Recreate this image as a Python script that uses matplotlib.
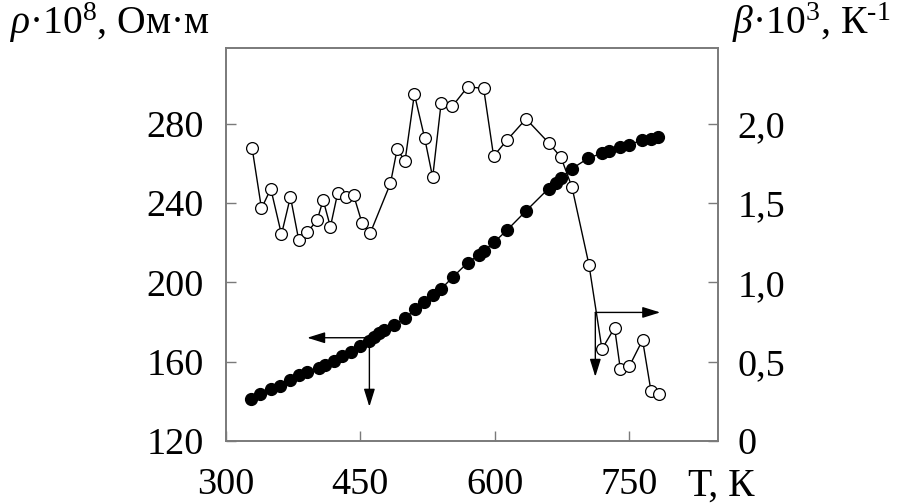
import matplotlib
matplotlib.use('Agg')
import matplotlib.pyplot as plt

# resistivity rho*10^8 (Ohm*m), filled circles, left axis
T_rho = [328.4, 338.5, 349.7, 360.8, 371.9, 382.0, 390.6, 403.5, 411.0, 420.2,
         429.6, 440.0, 450.0, 459.3, 464.8, 471.2, 476.0, 487.1, 500.2, 510.6,
         521.4, 530.6, 540.0, 552.9, 569.7, 582.7, 588.3, 599.4, 613.6, 634.8,
         660.0, 668.0, 674.2, 685.6, 704.3, 719.5, 727.7, 740.0, 749.2, 764.5,
         774.5, 782.3]
rho = [141.2, 143.7, 146.1, 147.9, 150.8, 153.3, 154.9, 156.7, 158.3, 160.5,
       162.9, 165.0, 167.9, 170.6, 172.6, 174.3, 176.0, 178.5, 181.9, 186.4,
       190.2, 193.6, 196.7, 202.6, 210.0, 214.0, 216.0, 220.4, 226.4, 236.1,
       247.4, 250.1, 252.9, 257.3, 262.7, 265.2, 266.3, 268.3, 269.4, 271.8,
       272.6, 273.5]

# temperature coefficient beta*10^3 (1/K), open circles, right axis
T_beta = [329.2, 339.6, 350.0, 361.9, 371.9, 381.2, 390.6, 401.7, 408.4, 416.5,
          424.7, 433.6, 442.5, 451.9, 461.1, 483.5, 490.9, 499.8, 510.2, 521.7,
          530.6, 540.0, 552.6, 569.7, 587.5, 598.6, 613.6, 634.8, 660.0, 673.8,
          686.1, 705.0, 719.5, 733.6, 740.0, 750.0, 764.8, 774.2, 782.7]
beta = [1.846, 1.467, 1.591, 1.303, 1.540, 1.267, 1.316, 1.393, 1.520, 1.351,
        1.566, 1.540, 1.549, 1.373, 1.313, 1.625, 1.839, 1.767, 2.188, 1.910,
        1.663, 2.129, 2.112, 2.234, 2.224, 1.797, 1.898, 2.032, 1.881, 1.789,
        1.600, 1.112, 0.580, 0.714, 0.454, 0.471, 0.637, 0.315, 0.296]

x_ticks = [300, 450, 600, 750]
rho_ticks = [120, 160, 200, 240, 280]
beta_ticks = [0, 0.5, 1.0, 1.5, 2.0]
beta_labels = ['0', '0,5', '1,0', '1,5', '2,0']

plt.rcParams['font.family'] = ['Liberation Serif', 'DejaVu Serif']
plt.rcParams['mathtext.fontset'] = 'custom'
plt.rcParams['mathtext.rm'] = 'Liberation Serif'
plt.rcParams['mathtext.it'] = 'Liberation Serif:italic'

FS = 27.5
LFS = 28.5
spine_col = '#7a7a7a'

fig = plt.figure(figsize=(9, 5.04), dpi=100)
ax = fig.add_axes([0.2511, 0.125, 0.5467, 0.7798])
ax2 = ax.twinx()

ax.plot(T_rho, rho, '-o', color='k', ms=8.5, lw=1, zorder=3)
ax2.plot(T_beta, beta, '-o', color='k', mfc='white', mec='k', ms=8.5,
         mew=0.9, lw=1, zorder=3)

ax.set_xlim(300, 849)
ax.set_ylim(120, 318.3)
ax2.set_ylim(0, 2.479)

ax.set_xticks(x_ticks)
ax.set_yticks(rho_ticks)
ax2.set_yticks(beta_ticks)
ax2.set_yticklabels(beta_labels)

for a in (ax, ax2):
    for s in a.spines.values():
        s.set_color(spine_col)
        s.set_linewidth(1.2)

ax.tick_params(axis='x', direction='in', length=7, width=1, color=spine_col,
               labelsize=FS, pad=19)
ax.tick_params(axis='y', direction='in', length=7, width=1, color=spine_col,
               labelsize=FS, pad=16)
ax2.tick_params(axis='y', direction='in', length=7, width=1, color=spine_col,
                labelsize=FS, pad=14)

ap = dict(arrowstyle='-|>,head_length=0.9,head_width=0.28', color='k', lw=1,
          shrinkA=0, shrinkB=0, mutation_scale=12)
ax.annotate('', xy=(390.6, 172.1), xytext=(460, 172.1), arrowprops=ap)
ax.annotate('', xy=(460, 137.3), xytext=(460, 172.1), arrowprops=ap)
ax2.annotate('', xy=(784.5, 0.811), xytext=(712.1, 0.811), arrowprops=ap)
ax2.annotate('', xy=(712.1, 0.405), xytext=(712.1, 0.811), arrowprops=ap)

fig.text(0.010, 1 - 34 / 504, r'$\rho$·10$^{8}$, Ом·м', fontsize=LFS,
         ha='left', va='baseline')
fig.text(0.813, 1 - 34 / 504, r'$\beta$·10$^{3}$, К$^{\text{-}1}$',
         fontsize=LFS, ha='left', va='baseline')
fig.text(0.764, 1 - 496 / 504, 'Т, К', fontsize=LFS, ha='left',
         va='baseline')

fig.savefig('out.png', dpi=100)
